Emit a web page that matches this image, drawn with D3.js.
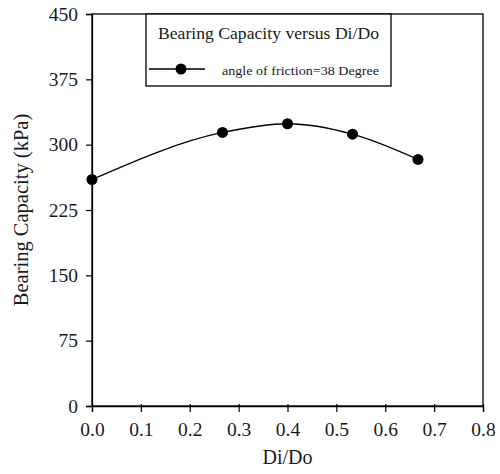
<!DOCTYPE html>
<html>
<head>
<meta charset="utf-8">
<script src="https://cdn.jsdelivr.net/npm/d3@7"></script>
<style>
  html, body { margin: 0; padding: 0; background: #fff; }
  svg { display: block; }
  svg text { font-family: "Liberation Serif", "Times New Roman", serif !important; }
</style>
</head>
<body>
<svg id="chart" width="500" height="474"></svg>
<script>
const xValues = [0, 0.267, 0.4, 0.533, 0.667];
const yValues = [260, 314, 324, 312, 283];
const xTicks = [0, 0.1, 0.2, 0.3, 0.4, 0.5, 0.6, 0.7, 0.8];
const yTicks = [0, 75, 150, 225, 300, 375, 450];
const seriesName = "angle of friction=38 Degree";
const legendTitle = "Bearing Capacity versus Di/Do";
const xLabel = "Di/Do";
const yLabel = "Bearing Capacity (kPa)";

const svg = d3.select("#chart");
const m = { left: 92, top: 14, right: 483, bottom: 406 };
const x = d3.scaleLinear().domain([0, 0.8]).range([m.left, m.right]);
const y = d3.scaleLinear().domain([0, 450]).range([m.bottom, m.top]);
const ink = "#1a1a1a";

// frame
svg.append("rect").attr("x", m.left).attr("y", m.top)
  .attr("width", m.right - m.left).attr("height", m.bottom - m.top)
  .attr("fill", "none").attr("stroke", "#000").attr("stroke-width", 1.3);

const xAxis = svg.append("g").attr("transform", `translate(0,${m.bottom})`)
  .call(d3.axisBottom(x).tickValues(xTicks).tickFormat(d3.format(".1f")).tickSize(6));
const yAxis = svg.append("g").attr("transform", `translate(${m.left},0)`)
  .call(d3.axisLeft(y).tickValues(yTicks).tickSize(6).tickPadding(8));
[xAxis, yAxis].forEach(a => {
  a.attr("font-family", null);
  a.select(".domain").attr("stroke", "#000").attr("stroke-width", 1.3);
  a.selectAll(".tick line").attr("stroke", "#000").attr("stroke-width", 1.2);
  a.selectAll("text").style("font-size", "19.5px").attr("fill", ink);
});
xAxis.selectAll(".tick line").attr("y1", -2);
xAxis.selectAll(".tick text").attr("y", 30).attr("dy", 0);

// axis labels
svg.append("text").attr("x", (m.left + m.right) / 2).attr("y", 464)
  .attr("text-anchor", "middle").style("font-size", "20px").attr("fill", ink).text(xLabel);
svg.append("text").attr("transform", `translate(28,${(m.top + m.bottom) / 2}) rotate(-90)`)
  .attr("text-anchor", "middle").style("font-size", "20.5px").attr("fill", ink).text(yLabel);

// data
const pts = xValues.map((v, i) => [v, yValues[i]]);
const line = d3.line().x(d => x(d[0])).y(d => y(d[1])).curve(d3.curveMonotoneX);
svg.append("path").datum(pts).attr("d", line).attr("fill", "none")
  .attr("stroke", "#000").attr("stroke-width", 1.3);
svg.selectAll("circle.pt").data(pts).enter().append("circle").attr("class", "pt")
  .attr("cx", d => x(d[0])).attr("cy", d => y(d[1])).attr("r", 5.5).attr("fill", "#000");

// legend
const lg = svg.append("g");
lg.append("rect").attr("x", 146).attr("y", m.top).attr("width", 245).attr("height", 72)
  .attr("fill", "#fff").attr("stroke", "#000").attr("stroke-width", 1.3);
lg.append("text").attr("x", 158).attr("y", 39).style("font-size", "17px").attr("fill", ink)
  .attr("textLength", 221).attr("lengthAdjust", "spacingAndGlyphs").text(legendTitle);
lg.append("line").attr("x1", 149).attr("x2", 205).attr("y1", 69).attr("y2", 69)
  .attr("stroke", "#000").attr("stroke-width", 1.3);
lg.append("circle").attr("cx", 181).attr("cy", 69).attr("r", 5.5).attr("fill", "#000");
lg.append("text").attr("x", 222).attr("y", 75).style("font-size", "13px").attr("fill", ink)
  .attr("textLength", 157).attr("lengthAdjust", "spacingAndGlyphs").text(seriesName);
</script>
</body>
</html>
